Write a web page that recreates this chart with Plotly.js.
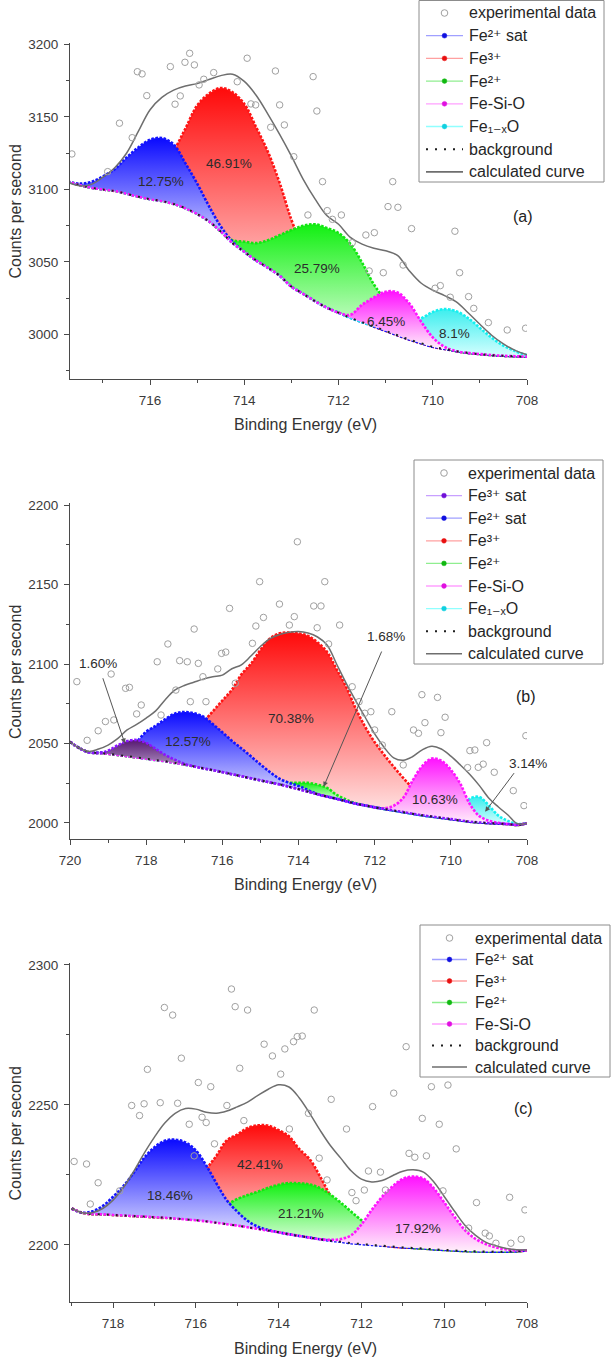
<!DOCTYPE html>
<html>
<head>
<meta charset="utf-8">
<script src="https://cdn.plot.ly/plotly-3.0.1.min.js"></script>
<style>
  html, body { margin: 0; padding: 0; background: #fff; }
  #chart { width: 612px; height: 1358px; }
</style>
</head>
<body>
<div id="chart"></div>
<script>
// ---------------- Panel (a) ----------------
const energyA = [717.75,717.5,717.25,717,716.75,716.5,716.25,716,715.75,715.5,715.25,715,714.75,714.5,714.25,714,713.75,713.5,713.25,713,712.75,712.5,712.25,712,711.75,711.5,711.25,711,710.75,710.5,710.25,710,709.75,709.5,709.25,709,708.75,708.5,708.25,708];
const backgroundA = [3105.5,3103,3101.2,3100,3099,3097,3095,3093.3,3092,3090,3087,3083,3078,3071,3063,3057,3051,3046,3040.5,3033,3028,3023,3018.5,3015,3011.5,3008.5,3005.5,3002.5,2999.5,2996.5,2994,2991.5,2990,2988.5,2987.3,2986.5,2985.8,2985.3,2985,2984.7];
const calculatedA = [3105,3102.5,3103.5,3108.5,3115,3125,3140,3155,3163.5,3168.5,3171.3,3173,3175.8,3178.5,3179.5,3174.5,3165,3152,3138,3123,3107,3093.5,3082,3076,3067,3062.3,3059.5,3057.7,3054.5,3044,3035.5,3030.5,3026.8,3022.5,3015,3007,2999.5,2993.5,2989,2986];
// component heights above the background
const fe2SatA = [0,1,4,9,15,25,34,41,43.5,41,31,21,10.5,3.5,1,0,0,0,0,0,0,0,0,0,0,0,0,0,0,0,0,0,0,0,0,0,0,0,0,0];
const fe3A    = [0,0,0,0,0,1,3,8,18,36,55,75,88,99,104,102,92,80,64,46,31,19,10,5,2,1,0,0,0,0,0,0,0,0,0,0,0,0,0,0];
const fe2A    = [0,0,0,0,0,0,0,0,0,0,0,0,0,0,2,7,12,19,28,39,47,53,55,55,51,41,29,21,15,9,5,2.5,1,0,0,0,0,0,0,0];
const feSiOA  = [0,0,0,0,0,0,0,0,0,0,0,0,0,0,0,0,0,0,0,0,0,0,0,0,2,12,20,27,29.5,25,15,6.5,1.5,0,0,0,0,0,0,0];
const fe1xOA  = [0,0,0,0,0,0,0,0,0,0,0,0,0,0,0,0,0,0,0,0,0,0,0,0,0,0,0.5,3,7,12,17,24,27.5,27.5,24,18,12,7,3.5,1];
const expAx = [717.66,716.90,716.65,716.38,716.27,716.17,716.07,715.57,715.47,715.36,715.26,715.16,715.06,714.96,714.86,714.65,714.15,713.94,713.86,713.76,713.44,713.34,713.25,713.15,712.95,712.65,712.54,712.46,712.34,712.24,712.13,711.94,711.71,711.42,711.35,711.24,711.05,710.95,710.85,710.74,710.63,710.45,709.95,709.84,709.63,709.53,709.43,709.24,709.13,708.82,708.42,708.03];
const expAy = [3124.5,3112.3,3145.7,3135.7,3181.2,3179.7,3164.7,3184.7,3158.8,3164.5,3187.7,3193.9,3185.9,3172.1,3176,3180.6,3174.3,3190.5,3159,3158.3,3142.9,3181.7,3158.3,3144.5,3122.6,3082.4,3177.8,3154.1,3105.4,3085.4,3079.4,3082.4,3063.3,3068.6,3043.8,3070.2,3042.6,3088.2,3105.4,3087.7,3047.9,3073,3031.9,3033.7,3025.7,3071.2,3042.6,3026.1,3018,3008.2,3003.1,3004.3];

// ---------------- Panel (b) ----------------
const energyB = [720,719.75,719.5,719.25,719,718.75,718.5,718.25,718,717.75,717.5,717.25,717,716.75,716.5,716.25,716,715.75,715.5,715.25,715,714.75,714.5,714.25,714,713.75,713.5,713.25,713,712.75,712.5,712.25,712,711.75,711.5,711.25,711,710.75,710.5,710.25,710,709.75,709.5,709.25,709,708.75,708.5,708.25,708];
const backgroundB = [2051,2047,2044.5,2044,2043.5,2042.8,2042,2041.2,2040.4,2039.6,2038.8,2037.8,2036.8,2035.6,2034.4,2033.2,2032,2030.7,2029.4,2028.1,2026.8,2025.5,2024.3,2022.8,2021.3,2019.7,2018.1,2016.6,2015.2,2013.7,2012.1,2011,2009.8,2008.8,2007.8,2006.8,2005.8,2004.8,2004,2003.2,2002.4,2001.6,2000.8,2000.3,1999.9,1999.6,1999.3,1998.8,1999.8];
const calculatedB = [2051,2047,2045,2046.5,2049,2053,2058.5,2062,2066,2070.5,2077.5,2083.5,2086.5,2088.5,2090.5,2092,2093,2097,2099.5,2105,2111,2116,2118.5,2120,2120.5,2119.5,2117,2112,2100,2088,2077,2066.5,2056,2047.5,2041,2039.5,2041.8,2046,2048.2,2046.5,2042,2036.5,2030.5,2023.5,2015.5,2010,2005,1999.5,1999.8];
const fe3SatB = [0,0,0,0,2,6,9.5,11,10,7,4,2,0.5,0,0,0,0,0,0,0,0,0,0,0,0,0,0,0,0,0,0,0,0,0,0,0,0,0,0,0,0,0,0,0,0,0,0,0,0];
const fe2SatB = [0,0,0,0.3,1,2.5,5,10,17,21.5,26.5,31,33,33.5,32.5,29,25,21,17.5,13.8,10,6.5,3.5,2.5,2,1,0,0,0,0,0,0,0,0,0,0,0,0,0,0,0,0,0,0,0,0,0,0,0];
const fe3B    = [0,0,0,0,0,0,0,0,1,2.5,4.5,8,13,20,29,37,45,53,64,72,82,90.5,95,97,98,98,95.5,91,81.5,72,60,49.5,41,34,27.5,21.5,16,11,7,4,2,1,0,0,0,0,0,0,0];
const fe2B    = [0,0,0,0,0,0,0,0,0,0,0,0,0,0,0,0,0,0,0,0,0,0,1,2.5,4,5.5,6,5.5,2.5,1,0.3,0,0,0,0,0,0,0,0,0,0,0,0,0,0,0,0,0,0];
const feSiOB  = [0,0,0,0,0,0,0,0,0,0,0,0,0,0,0,0,0,0,0,0,0,0,0,0,0,0,0,0,0,0,0,0,0,0.5,3,9,21,31,36.5,36,31,23,11,4,1.5,0.5,0,0,0];
const fe1xOB  = [0,0,0,0,0,0,0,0,0,0,0,0,0,0,0,0,0,0,0,0,0,0,0,0,0,0,0,0,0,0,0,0,0,0,0,0,0,0,0,0.5,2,6,14.5,16,11,5,2,0.5,0];
const expBx = [719.82,719.55,719.26,719.07,718.92,718.85,718.54,718.44,718.25,718.13,717.71,717.61,717.43,717.22,717.12,716.92,716.84,716.74,716.63,716.51,716.43,716.12,716.02,715.91,715.81,715.66,715.21,715.12,715.02,714.92,714.5,714.24,714.11,714.03,713.6,713.51,713.41,713.31,713.21,712.92,712.59,712.41,712.26,712.1,712.0,711.8,711.55,711.25,710.98,710.85,710.76,710.68,710.35,710.26,710.15,709.56,709.5,709.37,709.28,709.15,709.06,708.86,708.36,708.08,708.03];
const expBy = [2088.9,2052,2058,2063.8,2093.7,2064.8,2084.7,2085.3,2068.6,2074.2,2101.4,2067.9,2112.6,2083.6,2102.1,2101.4,2076.3,2122,2100.4,2092,2076.3,2096.9,2106.7,2107.5,2135,2087.9,2113,2123.9,2151.8,2129.3,2137.7,2124.5,2129.8,2176.9,2136.5,2122.8,2136.5,2151.8,2112.6,2124.5,2085.7,2076.3,2069,2070,2058.5,2049,2070,2036.5,2058.5,2056.4,2080.7,2063.1,2079,2056.8,2066.5,2034.8,2045.5,2045.9,2035,2037,2050.5,2031.9,2020.3,2010.9,2054.9];

// ---------------- Panel (c) ----------------
const energyC = [719,718.75,718.5,718.25,718,717.75,717.5,717.25,717,716.75,716.5,716.25,716,715.75,715.5,715.25,715,714.75,714.5,714.25,714,713.75,713.5,713.25,713,712.75,712.5,712.25,712,711.75,711.5,711.25,711,710.75,710.5,710.25,710,709.75,709.5,709.25,709,708.75,708.5,708.25,708];
const backgroundC = [2213,2211.5,2211,2210.9,2210.7,2210.5,2210.3,2210.1,2209.9,2209.7,2209.4,2209.1,2208.8,2208.4,2207.9,2207.4,2206.9,2206.3,2205.7,2205.1,2204.5,2203.8,2203.2,2202.6,2202,2201.5,2201.1,2200.6,2200.3,2200,2199.7,2199.4,2199.1,2198.9,2198.7,2198.4,2198.2,2198,2197.8,2197.7,2197.6,2197.6,2197.6,2197.7,2198];
const calculatedC = [2213,2211.5,2211.5,2213,2216,2220.5,2226.3,2232.7,2238.5,2243.5,2247,2248.7,2248.5,2247.4,2247,2247.8,2249.3,2251,2253.4,2255.6,2257.2,2256.4,2252.5,2247,2241,2235.5,2231,2226.5,2223.5,2222.5,2223,2224.7,2226.3,2226.8,2226,2222.5,2217.3,2212,2207,2203.5,2201,2199.7,2198.7,2198.3,2198.2];
const fe2SatC = [0,0,1,3,6.5,10.5,15.5,21,25,27.5,28.2,27.5,25,20,14,8.5,5,2.3,0.8,0.2,0,0,0,0,0,0,0,0,0,0,0,0,0,0,0,0,0,0,0,0,0,0,0,0,0];
const fe3C    = [0,0,0,0,0,0,0,0,0,0,2,6,12,18.5,24,30,32.5,35.5,37,37.5,36.5,35,31,28,22.5,16,10,5.5,2.5,1,0.3,0,0,0,0,0,0,0,0,0,0,0,0,0,0];
const fe2C    = [0,0,0,0,0,0,0,0,0,0,0,0.5,1.2,2.5,4.5,7,9.5,11.5,13.3,15.3,17,18.3,18.8,19,18.3,16.5,14,11.3,8.5,5.5,3,1.5,0.5,0,0,0,0,0,0,0,0,0,0,0,0];
const feSiOC  = [0,0,0,0,0,0,0,0,0,0,0,0,0,0,0,0,0,0,0,0,0,0,0,0,0,0.3,1,2.8,7,12.5,17.5,21.5,24.5,25.5,25,21.8,17,12,7.5,4.5,2.7,1.5,0.8,0.3,0];
const expCx = [718.94,718.64,718.55,718.36,717.84,717.55,717.36,717.25,717.17,716.86,716.76,716.56,716.44,716.35,716.16,716.04,715.94,715.85,715.75,715.64,715.55,715.25,715.14,715.05,714.94,714.84,714.75,714.35,714.15,713.95,713.85,713.74,713.64,713.55,713.43,713.28,713.14,713.02,712.83,712.73,712.36,712.23,712.13,711.93,711.83,711.73,711.54,711.42,711.22,710.92,710.85,710.71,710.53,710.43,710.31,710.12,710.03,709.91,709.71,709.41,709.22,709.01,708.91,708.75,708.42,708.39,708.14,708.05];
const expCy = [2229.8,2228.9,2214.6,2222.2,2219.3,2249.8,2246.2,2250.4,2262.7,2250.8,2284.8,2282.1,2250.6,2266.7,2243.1,2231.8,2258,2245.6,2243.7,2256.5,2236.1,2249.8,2291.4,2285.1,2263.1,2244.4,2283.9,2271.7,2267.5,2261,2270,2241.4,2272.6,2274.4,2274.6,2247,2283.9,2231,2223.2,2252,2241.4,2218.7,2215.8,2219.6,2226.4,2249.4,2226,2219.6,2254.2,2270.8,2232.7,2231.3,2245.2,2231.8,2256.5,2243.1,2219.3,2257.1,2234.3,2206,2215.1,2204.2,2203.2,2200.6,2217,2200.6,2202,2212.5];

// ---------------- styling ----------------
const FONT = 'Arial, "Liberation Sans", "DejaVu Sans", sans-serif';
const W = 612, H = 1358, ML = 70, MR = 85;
const px2x = px => (px - ML) / (W - ML - MR);
const py2y = py => 1 - py / H;

const COLORS = {
  blue:    {line: '#1414ff', lo: '#d2d2ff', hi: '#0a0aff', legLine: '#a0a0ff', legDot: '#1010e0'},
  red:     {line: '#ff1414', lo: '#ffecec', hi: '#ff0a0a', legLine: '#ffa0a0', legDot: '#e81010'},
  green:   {line: '#12e612', lo: '#f0fff0', hi: '#12f012', legLine: '#90ee90', legDot: '#10b810'},
  magenta: {line: '#ff14ff', lo: '#fff0fa', hi: '#ff12ff', legLine: '#ffa0ff', legDot: '#e010e0'},
  cyan:    {line: '#14f0f0', lo: '#d6ffff', hi: '#3ceeee', legLine: '#90ffff', legDot: '#10d0e0'},
  purple:  {line: '#8a14ff', lo: '#a888bc', hi: '#561870', legLine: '#c8a0ff', legDot: '#7010d8'}
};

const traces = [];

// filled component: invisible baseline followed by the peak line filled down to it
function addComponent(xs, bg, h, xa, ya, c) {
  const top = bg.map((b, i) => b + h[i]);
  let lo = Infinity, hi = -Infinity;
  h.forEach((v, i) => { if (v > 0.4) { lo = Math.min(lo, bg[i]); hi = Math.max(hi, top[i]); } });
  traces.push({
    x: xs, y: bg, xaxis: xa, yaxis: ya, mode: 'lines',
    line: {width: 0, shape: 'spline'}, hoverinfo: 'skip', showlegend: false
  });
  traces.push({
    x: xs, y: top, xaxis: xa, yaxis: ya, mode: 'lines', fill: 'tonexty',
    fillcolor: c.hi,
    fillgradient: {type: 'vertical', start: lo, stop: hi, colorscale: [[0, c.lo], [1, c.hi]]},
    line: {color: c.line, width: 2.6, dash: '2.6px,1.5px', shape: 'spline'},
    hoverinfo: 'skip', showlegend: false
  });
}

function addCommon(xs, bg, env, ex, ey, xa, ya) {
  traces.push({
    x: xs, y: bg, xaxis: xa, yaxis: ya, mode: 'lines',
    line: {color: '#1e1e1e', width: 2, dash: '2px,7px', shape: 'spline'},
    hoverinfo: 'skip', showlegend: false
  });
  traces.push({
    x: xs, y: env, xaxis: xa, yaxis: ya, mode: 'lines',
    line: {color: '#6e6e6e', width: 1.5, shape: 'spline'},
    hoverinfo: 'skip', showlegend: false
  });
  traces.push({
    x: ex, y: ey, xaxis: xa, yaxis: ya, mode: 'markers',
    marker: {symbol: 'circle-open', size: 6.5, color: '#a0a0a0', line: {width: 1}},
    hoverinfo: 'skip', showlegend: false
  });
}

// panel (a)
addComponent(energyA, backgroundA, fe3A, 'x', 'y', COLORS.red);
addComponent(energyA, backgroundA, fe2A, 'x', 'y', COLORS.green);
addComponent(energyA, backgroundA, fe2SatA, 'x', 'y', COLORS.blue);
addComponent(energyA, backgroundA, fe1xOA, 'x', 'y', COLORS.cyan);
addComponent(energyA, backgroundA, feSiOA, 'x', 'y', COLORS.magenta);
addCommon(energyA, backgroundA, calculatedA, expAx, expAy, 'x', 'y');

// panel (b)
addComponent(energyB, backgroundB, fe3B, 'x2', 'y2', COLORS.red);
addComponent(energyB, backgroundB, fe2B, 'x2', 'y2', COLORS.green);
addComponent(energyB, backgroundB, fe2SatB, 'x2', 'y2', COLORS.blue);
addComponent(energyB, backgroundB, fe1xOB, 'x2', 'y2', COLORS.cyan);
addComponent(energyB, backgroundB, feSiOB, 'x2', 'y2', COLORS.magenta);
addComponent(energyB, backgroundB, fe3SatB, 'x2', 'y2', COLORS.purple);
addCommon(energyB, backgroundB, calculatedB, expBx, expBy, 'x2', 'y2');

// panel (c)
addComponent(energyC, backgroundC, fe3C, 'x3', 'y3', COLORS.red);
addComponent(energyC, backgroundC, fe2C, 'x3', 'y3', COLORS.green);
addComponent(energyC, backgroundC, fe2SatC, 'x3', 'y3', COLORS.blue);
addComponent(energyC, backgroundC, feSiOC, 'x3', 'y3', COLORS.magenta);
addCommon(energyC, backgroundC, calculatedC, expCx, expCy, 'x3', 'y3');

// ---------------- axes ----------------
const AX = '#4a4a4a';
function xAxis(range, anchor) {
  return {
    range: range, autorange: false, anchor: anchor, tick0: 708, dtick: 2,
    ticks: 'outside', ticklen: 5, tickwidth: 1, tickcolor: AX, ticklabelstandoff: 4,
    showline: true, linecolor: AX, linewidth: 1, showgrid: false, zeroline: false,
    tickfont: {family: FONT, size: 13.5, color: '#3a3a3a'},
    minor: {tick0: 708, dtick: 1, ticks: 'outside', ticklen: 3, tickcolor: AX, showgrid: false}
  };
}
function yAxis(range, domain, anchor) {
  return {
    range: range, autorange: false, domain: domain, anchor: anchor, tick0: 0, dtick: 50,
    ticks: 'outside', ticklen: 5, tickwidth: 1, tickcolor: AX, ticklabelstandoff: 3,
    showline: true, linecolor: AX, linewidth: 1, showgrid: false, zeroline: false,
    tickfont: {family: FONT, size: 13.5, color: '#3a3a3a'},
    minor: {tick0: 0, dtick: 25, ticks: 'outside', ticklen: 3, tickcolor: AX, showgrid: false}
  };
}

// ---------------- text ----------------
const annotations = [];
const shapes = [];
const txt = (x, y, text, xref, yref, size, color) => annotations.push({
  x: x, y: y, xref: xref, yref: yref, text: text, showarrow: false,
  font: {family: FONT, size: size || 13.5, color: color || '#2c2c2c'},
  xanchor: 'center', yanchor: 'middle'
});

// peak area shares
txt(715.77, 3105.4, '12.75%', 'x', 'y');
txt(714.32, 3118, '46.91%', 'x', 'y');
txt(712.45, 3045.6, '25.79%', 'x', 'y');
txt(710.99, 3008.8, '6.45%', 'x', 'y');
txt(709.53, 3000.8, '8.1%', 'x', 'y');

txt(716.89, 2051.1, '12.57%', 'x2', 'y2');
txt(714.21, 2065.8, '70.38%', 'x2', 'y2');
txt(710.41, 2014.8, '10.63%', 'x2', 'y2');
txt(719.26, 2100.4, '1.60%', 'x2', 'y2');
txt(711.69, 2117.6, '1.68%', 'x2', 'y2');
txt(px2x(528), py2y(763), '3.14%', 'paper', 'paper');

txt(716.63, 2217.5, '18.46%', 'x3', 'y3');
txt(714.46, 2228.6, '42.41%', 'x3', 'y3');
txt(713.47, 2211.3, '21.21%', 'x3', 'y3');
txt(710.64, 2206, '17.92%', 'x3', 'y3');

// pointers for the small peaks in panel (b)
function pointer(x, y, ax, ay) {
  annotations.push({
    x: x, y: y, ax: ax, ay: ay, xref: 'x2', yref: 'y2', axref: 'x2', ayref: 'y2',
    text: '', showarrow: true, arrowhead: 2, arrowsize: 1, arrowwidth: 1, arrowcolor: '#555'
  });
}
pointer(718.56, 2050, 719.15, 2092);
pointer(713.34, 2022.8, 711.8, 2108.8);
pointer(709.1, 2007, 708.31, 2032.3);

// panel tags
txt(px2x(523), py2y(217), '(a)', 'paper', 'paper', 16, '#222');
txt(px2x(526), py2y(697), '(b)', 'paper', 'paper', 16, '#222');
txt(px2x(523), py2y(1108), '(c)', 'paper', 'paper', 16, '#222');

// axis titles
[[211.5, 424], [672, 884], [1133.5, 1348]].forEach(([yc, xt]) => {
  annotations.push({
    x: px2x(15), y: py2y(yc), xref: 'paper', yref: 'paper', text: 'Counts per second',
    textangle: -90, showarrow: false, font: {family: FONT, size: 16, color: '#333'},
    xanchor: 'center', yanchor: 'middle'
  });
  annotations.push({
    x: px2x(305), y: py2y(xt), xref: 'paper', yref: 'paper', text: 'Binding Energy (eV)',
    showarrow: false, font: {family: FONT, size: 16, color: '#333'},
    xanchor: 'center', yanchor: 'middle'
  });
});

// ---------------- legends ----------------
const legendA = ['exp', ['blue', 'Fe²⁺ sat'], ['red', 'Fe³⁺'], ['green', 'Fe²⁺'],
  ['magenta', 'Fe-Si-O'], ['cyan', 'Fe₁₋ₓO'], 'bg', 'env'];
const legendB = ['exp', ['purple', 'Fe³⁺ sat'], ['blue', 'Fe²⁺ sat'], ['red', 'Fe³⁺'],
  ['green', 'Fe²⁺'], ['magenta', 'Fe-Si-O'], ['cyan', 'Fe₁₋ₓO'], 'bg', 'env'];
const legendC = ['exp', ['blue', 'Fe²⁺ sat'], ['red', 'Fe³⁺'], ['green', 'Fe²⁺'],
  ['magenta', 'Fe-Si-O'], 'bg', 'env'];

function drawLegend(items, box, symX0, symX1, textX, row0, rowH) {
  shapes.push({
    type: 'rect', xref: 'paper', yref: 'paper', layer: 'above',
    x0: px2x(box[0]), x1: px2x(box[1]), y0: py2y(box[3]), y1: py2y(box[2]),
    line: {color: '#8c8c8c', width: 1}, fillcolor: '#ffffff'
  });
  const cx = (symX0 + symX1) / 2;
  const seg = (yy, color, width, dash) => shapes.push({
    type: 'line', xref: 'paper', yref: 'paper', layer: 'above',
    x0: px2x(symX0), x1: px2x(symX1), y0: py2y(yy), y1: py2y(yy),
    line: {color: color, width: width, dash: dash || 'solid'}
  });
  const dot = (yy, r, fill, stroke, lw) => shapes.push({
    type: 'circle', xref: 'paper', yref: 'paper', layer: 'above',
    x0: px2x(cx - r), x1: px2x(cx + r), y0: py2y(yy + r), y1: py2y(yy - r),
    fillcolor: fill, line: {color: stroke, width: lw}
  });
  items.forEach((it, i) => {
    const yy = row0 + i * rowH;
    let label;
    if (it === 'exp') { dot(yy, 3.3, 'rgba(0,0,0,0)', '#a0a0a0', 1); label = 'experimental data'; }
    else if (it === 'bg') { seg(yy, '#1e1e1e', 2, '2px,7px'); label = 'background'; }
    else if (it === 'env') { seg(yy, '#6e6e6e', 1.6); label = 'calculated curve'; }
    else {
      const c = COLORS[it[0]];
      seg(yy, c.legLine, 1.3);
      dot(yy, 2.4, c.legDot, c.legDot, 0.5);
      label = it[1];
    }
    annotations.push({
      x: px2x(textX), y: py2y(yy), xref: 'paper', yref: 'paper', text: label,
      showarrow: false, xanchor: 'left', yanchor: 'middle',
      font: {family: FONT, size: 16, color: '#262626'}
    });
  });
}
drawLegend(legendA, [419, 604, 0.5, 182], 426, 463, 467, 13, 22.7);
drawLegend(legendB, [414, 603, 460, 664], 426, 462, 466, 473, 22.6);
drawLegend(legendC, [420, 610, 925, 1077], 432, 467, 473, 938, 21.5);

const layout = {
  width: W, height: H,
  margin: {l: ML, r: MR, t: 0, b: 0, pad: 0},
  paper_bgcolor: '#ffffff', plot_bgcolor: '#ffffff',
  showlegend: false,
  font: {family: FONT, color: '#333'},
  xaxis: xAxis([717.7, 708], 'y'),
  yaxis: yAxis([2969.3, 3201], [py2y(379), py2y(43)], 'x'),
  xaxis2: xAxis([720, 708], 'y2'),
  yaxis2: yAxis([1989.9, 2201.3], [py2y(839), py2y(503)], 'x2'),
  xaxis3: xAxis([719.04, 708], 'y3'),
  yaxis3: yAxis([2179.6, 2300.7], [py2y(1302), py2y(963)], 'x3'),
  annotations: annotations,
  shapes: shapes
};

Plotly.newPlot('chart', traces, layout, {displayModeBar: false, staticPlot: true});
</script>
</body>
</html>
